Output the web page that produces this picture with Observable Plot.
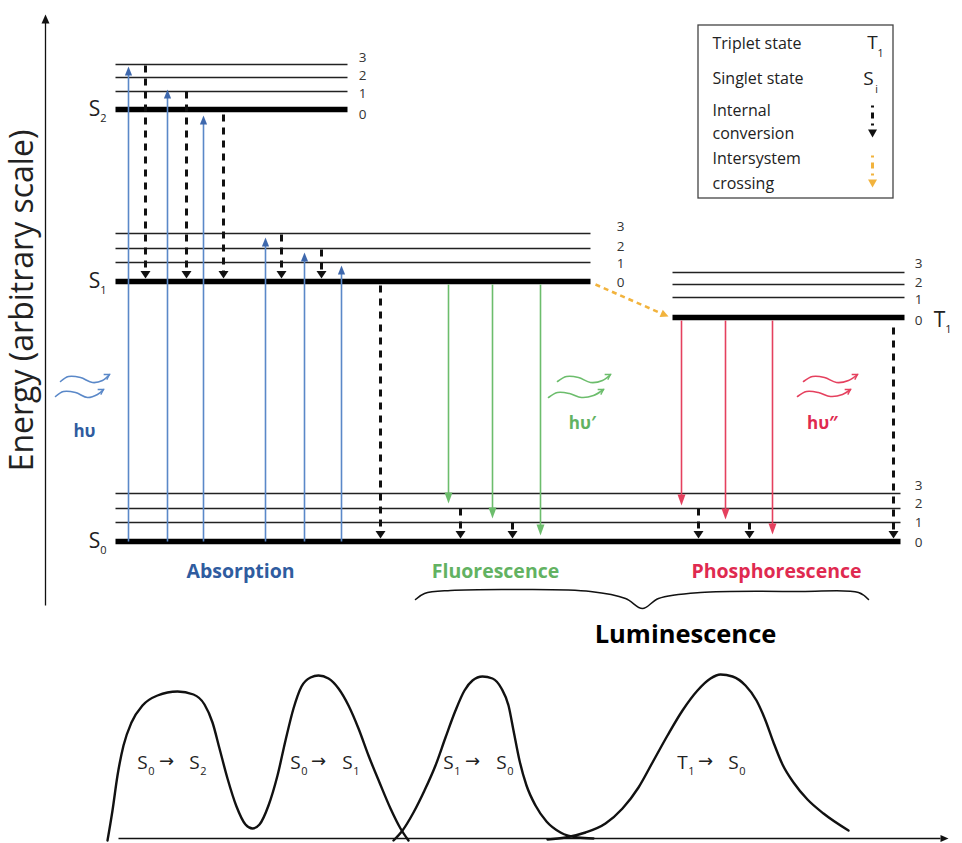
<!DOCTYPE html>
<html><head><meta charset="utf-8">
<script src="https://cdn.jsdelivr.net/npm/d3@7"></script>
<script src="https://cdn.jsdelivr.net/npm/@observablehq/plot@0.6"></script>
<style>body{margin:0;background:#fff}#chart svg{display:block}</style>
</head><body><div id="chart"></div>
<script>
// ---------- data (diagram units) ----------
const states = ["S2", "S1", "T1", "S0"];
const stateLetter = ["S", "S", "T", "S"];
const stateSub = ["2", "1", "1", "0"];
const stateLabelX = [94, 94, 939, 94];
const levelX1 = [115, 115, 672, 115];
const levelX2 = [347, 590, 904, 900];
const vib0Y = [109, 281, 317, 541];
const vib1Y = [91, 262, 297, 522];
const vib2Y = [77, 248, 284, 508];
const vib3Y = [64, 233, 272, 493];
const vibNumbers = ["0", "1", "2", "3"];
const vibLabelX = [362, 620, 918, 918];
const vibLabelY = [[114, 93, 75, 57], [282, 263, 246, 226], [320, 299, 282, 263], [542, 522, 503, 485]];

const absX = [128, 167, 203, 265, 304, 341];
const absTo = [66, 89, 115, 237, 252, 265];
const icX = [145, 186, 223, 281, 321, 380, 460, 512, 698, 749, 893];
const icFrom = [65, 91, 114, 234, 249, 285, 508, 522, 508, 522, 327];
const icTo = [278, 278, 278, 278, 278, 538, 538, 538, 538, 538, 538];
const fluX = [448, 492, 540];
const fluTo = [503, 518, 535];
const phoX = [681, 725, 772];
const phoTo = [505, 519, 534];
const iscFrom = [595, 284];
const iscTo = [668, 316];

const processNames = ["Absorption", "Fluorescence", "Phosphorescence"];
const processX = [240, 495, 776];
const photonLabels = ["hυ", "hυ′", "hυ″"];
const photonX = [84, 582, 822];

const legendLabels = ["Triplet state", "Singlet state", "Internal", "conversion", "Intersystem", "crossing"];
const legendLabelY = [43, 78, 110, 133, 158, 183];

const spectrumA = [[107,840],[112,810],[117,775],[123,745],[131,722],[142,705],[157,695],[177,691],[193,694],[204,704],[212,722],[219,748],[227,778],[236,806],[245,824],[252,828],[259,824],[268,805],[277,775],[285,740],[293,708],[301,686],[310,677],[318,675],[328,678],[338,688],[348,705],[358,728],[368,755],[379,782],[390,808],[400,828],[408,840]];
const spectrumB = [[393,840],[402,830],[413,812],[424,790],[435,765],[445,737],[455,710],[464,690],[472,680],[482,676],[492,678],[501,688],[508,705],[513,730],[519,760],[526,785],[535,805],[546,821],[560,832],[577,837],[593,838]];
const spectrumC = [[547,839],[565,837],[585,832],[605,823],[622,808],[638,787],[652,762],[667,735],[682,710],[697,690],[710,678],[720,674],[732,676],[745,685],[756,700],[765,720],[773,742],[782,764],[793,782],[807,799],[823,813],[848,830]];
const specLetter = ["S", "S", "S", "S", "S", "S", "T", "S"];
const specLetterX = [142, 194, 295, 347, 448, 501, 682, 733];
const specSub = ["0", "2", "0", "1", "1", "0", "1", "0"];
const specArrowX = [166, 318, 472, 705];

const brace = [[415,599],[424,593],[450,590],[520,589],[590,591],[625,598],[642,608],[658,598],[700,592],[800,591],[858,592],[868,599]];

const waves = {
  blue: [[[60,381],[68,376],[80,377],[92,382],[102,380],[109,374]], [[55,396],[63,391],[75,392],[87,397],[97,394],[103,389]]],
  green: [[[557,381],[566,376],[578,377],[590,382],[602,380],[610,374]], [[548,397],[557,392],[569,393],[581,397],[593,395],[603,389]]],
  red: [[[803,381],[812,376],[824,377],[836,382],[848,380],[857,374]], [[797,396],[806,391],[818,392],[830,396],[842,394],[850,389]]]
};

// ---------- helpers ----------
const C = {blue: "#5a88c8", blueHead: "#3e68ad", blueText: "#2f5c9f", green: "#6cbd6c", greenText: "#62b262",
  red: "#e5405e", redText: "#df2a50", orange: "#f2b33d", ink: "#111"};
function head(dx, dy, w, h, open) {
  const L = Math.hypot(dx, dy), ux = dx / L, uy = dy / L;
  return {draw(ctx) {
    const ax = -h * ux - w * uy, ay = -h * uy + w * ux, bx = -h * ux + w * uy, by = -h * uy - w * ux;
    if (open) { ctx.moveTo(ax, ay); ctx.lineTo(0, 0); ctx.lineTo(bx, by); }
    else { ctx.moveTo(0, 0); ctx.lineTo(ax, ay); ctx.lineTo(bx, by); ctx.closePath(); }
  }};
}
const pts = (a) => a.map(([x, y]) => ({x, y}));

const levels = [];
states.forEach((s, i) => {
  [vib0Y, vib1Y, vib2Y, vib3Y].forEach((arr, v) => levels.push({state: s, v, x1: levelX1[i], x2: levelX2[i], y: arr[i]}));
});
const vibLabels = [];
states.forEach((s, i) => vibNumbers.forEach((n, v) => vibLabels.push({t: n, x: vibLabelX[i], y: vibLabelY[i][v]})));
const stateLabels = states.map((s, i) => ({t: stateLetter[i], sub: stateSub[i], x: stateLabelX[i], y: vib0Y[i] + (s === "T1" ? 3 : 0)}));
const absArrows = absX.map((x, i) => ({x, from: vib0Y[3], to: absTo[i]}));
const icArrows = icX.map((x, i) => ({x, from: icFrom[i], to: icTo[i]}));
const fluArrows = fluX.map((x, i) => ({x, from: vib0Y[1] + 3, to: fluTo[i]}));
const phoArrows = phoX.map((x, i) => ({x, from: vib0Y[2] + 3, to: phoTo[i]}));
const specLabels = specLetter.map((t, i) => ({t, sub: specSub[i], x: specLetterX[i]}));

const upHead = head(0, -1, 3.6, 9);
const icHead = head(0, 1, 5, 7.5);
const emHead = head(0, 1, 4, 11);
const iscDir = [iscTo[0] - iscFrom[0], iscTo[1] - iscFrom[1]];
const iscHead = head(iscDir[0], iscDir[1], 4, 8);
const waveHead = head(1, -0.6, 3, 5, true);
const axisUp = head(0, -1, 4, 9);
const axisRight = head(1, 0, 3.5, 8);

const font = "Open Sans";
const marks = [];
// energy axis
marks.push(Plot.link([{x: 45, y1: 605, y2: 22}], {x1: "x", x2: "x", y1: "y1", y2: "y2", stroke: C.ink, strokeWidth: 1.3}));
marks.push(Plot.dot([{x: 45, y: 14}], {x: "x", y: "y", symbol: axisUp, fill: C.ink, stroke: "none"}));
marks.push(Plot.text(["Energy (arbitrary scale)"], {x: 22, y: 300, text: d => d, rotate: -90, fontSize: 32, fontFamily: font, fill: "#222"}));
// levels
marks.push(Plot.link(levels.filter(d => d.v > 0), {x1: "x1", x2: "x2", y1: "y", y2: "y", stroke: "#222", strokeWidth: 1.4}));
marks.push(Plot.link(levels.filter(d => d.v === 0), {x1: "x1", x2: "x2", y1: "y", y2: "y", stroke: "#000", strokeWidth: 5.5}));
marks.push(Plot.text(vibLabels, {x: "x", y: "y", text: "t", fontSize: 13.5, fontFamily: font, fill: "#333"}));
marks.push(Plot.text(stateLabels, {x: "x", y: "y", text: "t", fontSize: 21, fontFamily: font, fill: "#222"}));
marks.push(Plot.text(stateLabels, {x: d => d.x + 9, y: d => d.y + 9, text: "sub", fontSize: 11, fontFamily: font, fill: "#222"}));
// absorption
marks.push(Plot.link(absArrows, {x1: "x", x2: "x", y1: "from", y2: d => d.to + 6, stroke: C.blue, strokeWidth: 1.6}));
marks.push(Plot.dot(absArrows, {x: "x", y: "to", symbol: upHead, fill: C.blueHead, stroke: "none"}));
// internal conversion
marks.push(Plot.link(icArrows, {x1: "x", x2: "x", y1: "from", y2: d => d.to - 5, stroke: C.ink, strokeWidth: 3, strokeDasharray: "7,6"}));
marks.push(Plot.dot(icArrows, {x: "x", y: "to", symbol: icHead, fill: C.ink, stroke: "none"}));
// fluorescence / phosphorescence
marks.push(Plot.link(fluArrows, {x1: "x", x2: "x", y1: "from", y2: d => d.to - 8, stroke: C.green, strokeWidth: 1.6}));
marks.push(Plot.dot(fluArrows, {x: "x", y: "to", symbol: emHead, fill: C.green, stroke: "none"}));
marks.push(Plot.link(phoArrows, {x1: "x", x2: "x", y1: "from", y2: d => d.to - 8, stroke: C.red, strokeWidth: 1.6}));
marks.push(Plot.dot(phoArrows, {x: "x", y: "to", symbol: emHead, fill: C.red, stroke: "none"}));
// intersystem crossing
marks.push(Plot.link([{x1: iscFrom[0], y1: iscFrom[1], x2: iscTo[0] - 7, y2: iscTo[1] - 3}], {x1: "x1", y1: "y1", x2: "x2", y2: "y2", stroke: C.orange, strokeWidth: 2.5, strokeDasharray: "5,4"}));
marks.push(Plot.dot([{x: iscTo[0], y: iscTo[1]}], {x: "x", y: "y", symbol: iscHead, fill: C.orange, stroke: "none"}));
// photons
[["blue", C.blue], ["green", C.green], ["red", C.red]].forEach(([k, col]) => {
  waves[k].forEach(w => {
    marks.push(Plot.line(pts(w), {x: "x", y: "y", curve: "catmull-rom", stroke: col, strokeWidth: 1.6}));
    const last = w[w.length - 1];
    marks.push(Plot.dot([{x: last[0], y: last[1]}], {x: "x", y: "y", symbol: waveHead, stroke: col, fill: "none", strokeWidth: 1.4}));
  });
});
const photonColors = [C.blueText, C.greenText, C.redText];
marks.push(Plot.text(photonLabels, {x: (d, i) => photonX[i], y: (d, i) => i === 0 ? 431 : 423, text: d => d, fill: (d, i) => photonColors[i], fontSize: 17, fontWeight: "bold", fontFamily: font}));
// process labels
marks.push(Plot.text(processNames, {x: (d, i) => processX[i], y: 571, text: d => d, fill: (d, i) => photonColors[i], fontSize: 19.5, fontWeight: "bold", fontFamily: font}));
marks.push(Plot.line(pts(brace), {x: "x", y: "y", curve: "catmull-rom", stroke: C.ink, strokeWidth: 1.5}));
marks.push(Plot.text(["Luminescence"], {x: 685, y: 634, text: d => d, fontSize: 25.5, fontWeight: "bold", fontFamily: font, fill: "#000"}));
// legend
marks.push(Plot.rect([{x1: 698, x2: 893, y1: 25, y2: 198}], {x1: "x1", x2: "x2", y1: "y1", y2: "y2", fill: "none", stroke: "#444", strokeWidth: 1.3}));
marks.push(Plot.text(legendLabels, {x: 712, y: (d, i) => legendLabelY[i], text: d => d, textAnchor: "start", fontSize: 16, fontFamily: font, fill: "#222"}));
marks.push(Plot.text(["T", "S"], {x: (d, i) => i ? 868 : 872, y: (d, i) => i ? 78 : 42, text: d => d, fontSize: 19, fontFamily: font, fill: "#222"}));
marks.push(Plot.text(["1", "i"], {x: (d, i) => i ? 876 : 880, y: (d, i) => i ? 89 : 53, text: d => d, fontSize: 10.5, fontFamily: font, fill: "#222"}));
marks.push(Plot.link([{x: 872, y1: 105, y2: 128, c: C.ink}, {x: 872, y1: 155, y2: 180, c: C.orange}], {x1: "x", x2: "x", y1: "y1", y2: "y2", stroke: "c", strokeWidth: 3, strokeDasharray: "2,5,6,5"}));
marks.push(Plot.dot([{x: 872, y: 137, c: C.ink}, {x: 872, y: 187, c: C.orange}], {x: "x", y: "y", symbol: head(0, 1, 4.5, 8), fill: "c", stroke: "none"}));
// spectrum
marks.push(Plot.link([{x1: 118, x2: 940, y: 838}], {x1: "x1", x2: "x2", y1: "y", y2: "y", stroke: C.ink, strokeWidth: 1.5}));
marks.push(Plot.dot([{x: 948, y: 838}], {x: "x", y: "y", symbol: axisRight, fill: C.ink, stroke: "none"}));
[spectrumA, spectrumB, spectrumC].forEach(s => marks.push(Plot.line(pts(s), {x: "x", y: "y", curve: "monotone-x", stroke: C.ink, strokeWidth: 2.4})));
marks.push(Plot.text(specLabels, {x: "x", y: 762, text: "t", fontSize: 19, fontFamily: font, fill: "#222"}));
marks.push(Plot.text(specLabels, {x: d => d.x + 9, y: 771, text: "sub", fontSize: 11, fontFamily: font, fill: "#222"}));
marks.push(Plot.text(specArrowX, {x: d => d, y: 761, text: () => "→", fontSize: 18, fontFamily: "DejaVu Sans", fill: "#222"}));

const chart = Plot.plot({
  width: 962, height: 843, margin: 0,
  x: {domain: [0, 962], range: [0, 962], axis: null},
  y: {domain: [0, 843], range: [0, 843], axis: null},
  style: {fontFamily: font, background: "#fff"},
  marks
});
document.getElementById("chart").append(chart);
</script></body></html>
